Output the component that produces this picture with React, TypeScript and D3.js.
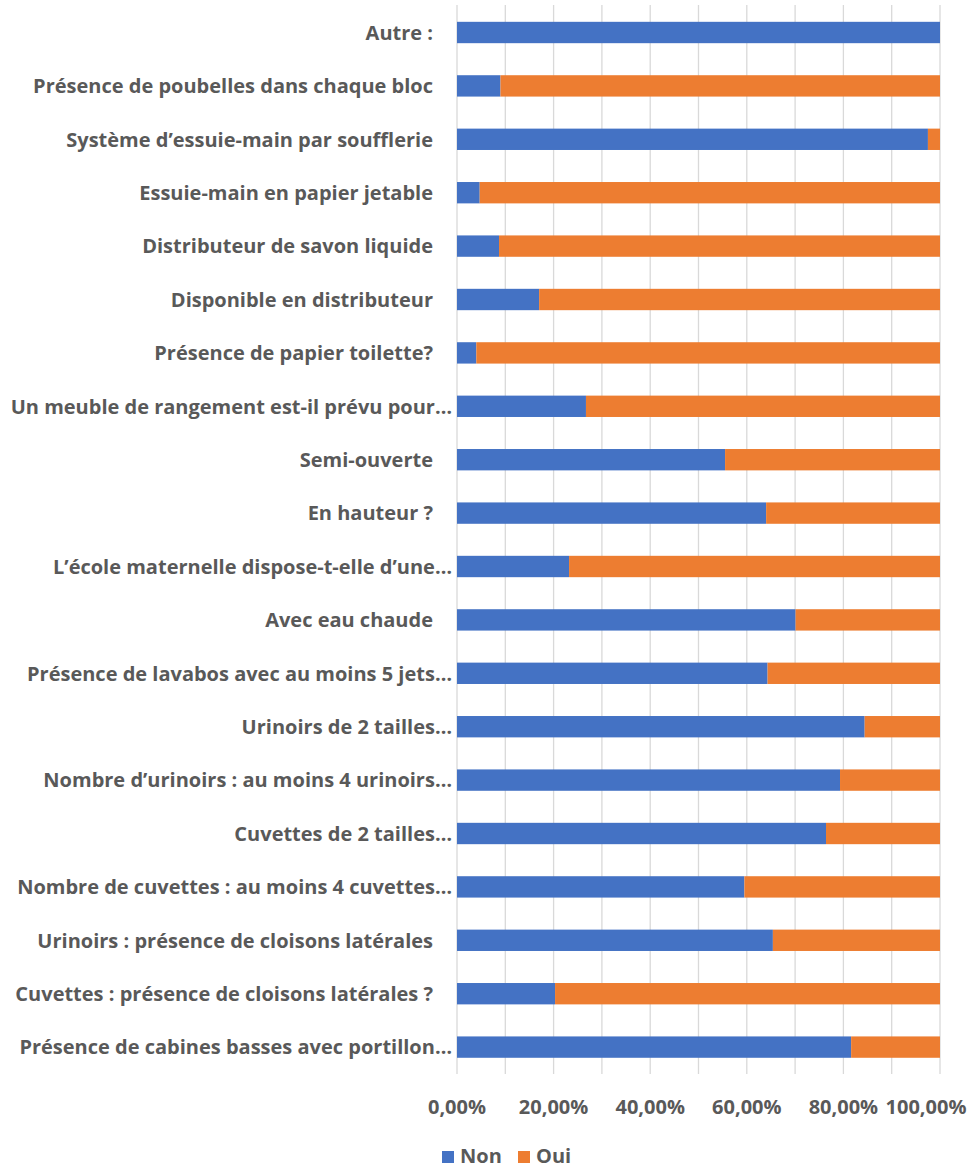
import React from "react";
import * as d3 from "d3";

// Questions, listed top to bottom as they appear on the axis
const categories: string[] = [
  "Autre :",
  "Présence de poubelles dans chaque bloc",
  "Système d’essuie-main par soufflerie",
  "Essuie-main en papier jetable",
  "Distributeur de savon liquide",
  "Disponible en distributeur",
  "Présence de papier toilette?",
  "Un meuble de rangement est-il prévu pour…",
  "Semi-ouverte",
  "En hauteur ?",
  "L’école maternelle dispose-t-elle d’une…",
  "Avec eau chaude",
  "Présence de lavabos avec au moins 5 jets…",
  "Urinoirs de 2 tailles…",
  "Nombre d’urinoirs : au moins 4 urinoirs…",
  "Cuvettes de 2 tailles…",
  "Nombre de cuvettes : au moins 4 cuvettes…",
  "Urinoirs : présence de cloisons latérales",
  "Cuvettes : présence de cloisons latérales ?",
  "Présence de cabines basses avec portillon…",
];

// Share of "Non" answers per question
const nonValues: number[] = [
  1.0, 0.09, 0.975, 0.047, 0.087, 0.17, 0.04, 0.267, 0.555, 0.64,
  0.232, 0.701, 0.643, 0.844, 0.793, 0.764, 0.595, 0.654, 0.203, 0.816,
];

// Share of "Oui" answers per question
const ouiValues: number[] = nonValues.map((v) => 1 - v);

const seriesNames: string[] = ["Non", "Oui"];
const seriesColors: string[] = ["#4472C4", "#ED7D31"];

const tickValues: number[] = [0, 0.2, 0.4, 0.6, 0.8, 1.0];
const gridValues: number[] = [0, 0.1, 0.2, 0.3, 0.4, 0.5, 0.6, 0.7, 0.8, 0.9, 1.0];

const W = 976;
const H = 1169;
const FONT = "'Open Sans', 'DejaVu Sans', sans-serif";
const TEXT = "#595959";
const FS = 20;

const frLocale = d3.formatLocale({
  decimal: ",",
  thousands: " ",
  grouping: [3],
  currency: ["", " €"],
  percent: "%",
});
const pct = frLocale.format(".2%");

export default function App() {
  const x = d3.scaleLinear().domain([0, 1]).range([457, 940]);
  const y = d3
    .scaleBand<string>()
    .domain(categories)
    .range([5.8, 1073.8])
    .paddingInner(0.6)
    .paddingOuter(0.3);

  const rows = categories.map((c, i) => ({ c, non: nonValues[i], oui: ouiValues[i] }));
  const stack = d3.stack<any>().keys(["non", "oui"])(rows);

  // keep the widest tick label inside the right edge of the canvas
  const tickX = (t: number) => Math.min(x(t), W - 50);

  return (
    <div style={{ position: "absolute", left: 0, top: 0 }}>
      <svg width={W} height={H} style={{ display: "block", background: "#fff" }}>
        {/* vertical gridlines */}
        <g>
          {gridValues.map((g) => (
            <line
              key={g}
              x1={x(g)}
              x2={x(g)}
              y1={5}
              y2={1074}
              stroke="#d9d9d9"
              strokeWidth={1.3}
            />
          ))}
        </g>

        {/* stacked bars */}
        {stack.map((layer, si) => (
          <g key={layer.key} fill={seriesColors[si]}>
            {layer.map((d, i) => (
              <rect
                key={i}
                x={x(d[0])}
                y={y(categories[i])}
                width={Math.max(0, x(d[1]) - x(d[0]))}
                height={y.bandwidth()}
              />
            ))}
          </g>
        ))}

        {/* category labels */}
        <g fontFamily={FONT} fontWeight={700} fontSize={FS} fill={TEXT}>
          {categories.map((c) => (
            <text
              key={c}
              x={c.endsWith("…") ? 452 : 433}
              y={(y(c) ?? 0) + y.bandwidth() / 2}
              dy="0.36em"
              textAnchor="end"
            >
              {c}
            </text>
          ))}
        </g>

        {/* x tick labels */}
        <g fontFamily={FONT} fontWeight={700} fontSize={FS} fill={TEXT}>
          {tickValues.map((t) => (
            <text key={t} x={tickX(t)} y={1114} textAnchor="middle">
              {pct(t)}
            </text>
          ))}
        </g>

        {/* legend */}
        <g fontFamily={FONT} fontWeight={700} fontSize={FS} fill={TEXT}>
          {seriesNames.map((s, i) => {
            const lx = i === 0 ? 442 : 518;
            return (
              <g key={s}>
                <rect x={lx} y={1151} width={12} height={12} fill={seriesColors[i]} />
                <text x={lx + 18} y={1163}>
                  {s}
                </text>
              </g>
            );
          })}
        </g>
      </svg>
    </div>
  );
}
